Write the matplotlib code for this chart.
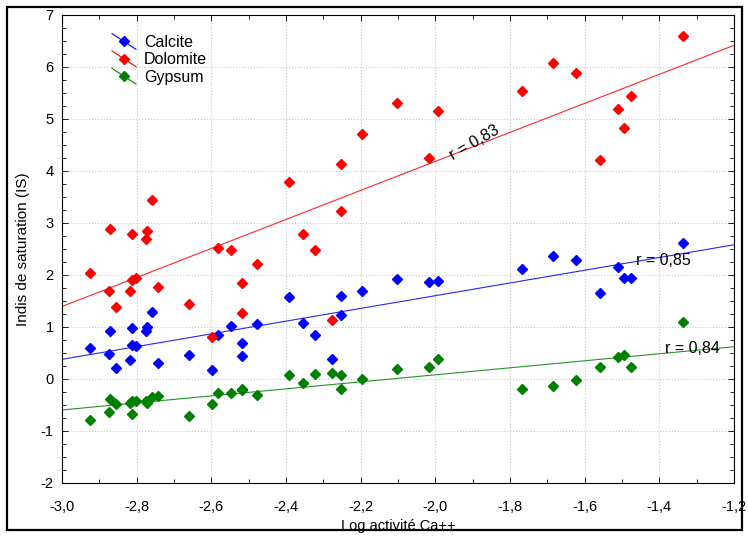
import numpy as np
import matplotlib
matplotlib.use("Agg")
import matplotlib.pyplot as plt
from matplotlib.lines import Line2D
from matplotlib.legend_handler import HandlerBase
from matplotlib.patches import Rectangle
from matplotlib.ticker import MultipleLocator, FuncFormatter

plt.rcParams['font.family'] = ['Liberation Sans', 'DejaVu Sans']

# Log activity of Ca++ (same samples for the three minerals)
log_ca = [-2.925, -2.874, -2.871, -2.855, -2.818, -2.812, -2.812, -2.802, -2.775,
          -2.771, -2.759, -2.744, -2.660, -2.597, -2.581, -2.546, -2.517, -2.517,
          -2.478, -2.392, -2.354, -2.323, -2.276, -2.252, -2.252, -2.196, -2.104,
          -2.017, -1.992, -1.767, -1.684, -1.624, -1.560, -1.510, -1.495, -1.475,
          -1.336]

calcite = [0.60, 0.48, 0.92, 0.21, 0.36, 0.98, 0.65, 0.64, 0.93,
           1.00, 1.28, 0.30, 0.47, 0.18, 0.85, 1.01, 0.69, 0.44,
           1.05, 1.58, 1.07, 0.85, 0.39, 1.59, 1.24, 1.69, 1.92,
           1.86, 1.88, 2.12, 2.36, 2.28, 1.66, 2.15, 1.95, 1.95,
           2.62]

dolomite = [2.03, 1.70, 2.89, 1.39, 1.70, 2.79, 1.90, 1.95, 2.70,
            2.85, 3.45, 1.77, 1.45, 0.80, 2.51, 2.49, 1.85, 1.27,
            2.21, 3.78, 2.79, 2.48, 1.13, 4.14, 3.23, 4.71, 5.31,
            4.25, 5.16, 5.54, 6.08, 5.88, 4.21, 5.19, 4.83, 5.45,
            6.59]

gypsum = [-0.78, -0.64, -0.39, -0.49, -0.46, -0.68, -0.42, -0.43, -0.42,
          -0.47, -0.34, -0.33, -0.71, -0.49, -0.26, -0.27, -0.22, -0.20,
          -0.30, 0.07, -0.08, 0.09, 0.11, 0.07, -0.20, 0.00, 0.19,
          0.23, 0.38, -0.20, -0.13, -0.02, 0.23, 0.42, 0.46, 0.23,
          1.10]

series = [("Calcite", calcite, "#0000ff"),
          ("Dolomite", dolomite, "#ff0000"),
          ("Gypsum", gypsum, "#008000")]

# r labels: text, x, y, rotation
r_labels = [("r = 0,83", -1.896, 4.55, 30),
            ("r = 0,85", -1.39, 2.28, 0),
            ("r = 0,84", -1.31, 0.59, 0)]


class DiagHandler(HandlerBase):
    # legend key: diagonal line with a diamond in the middle
    def create_artists(self, legend, orig_handle, xdescent, ydescent,
                       width, height, fontsize, trans):
        c = orig_handle.get_color()
        ln = Line2D([-xdescent, width - xdescent],
                    [height * 1.2 - ydescent, -height * 0.2 - ydescent],
                    color=c, lw=0.8, transform=trans)
        mk = Line2D([width / 2 - xdescent], [height / 2 - ydescent],
                    marker='D', ms=5, color=c, ls='none', transform=trans)
        return [ln, mk]


fig = plt.figure(figsize=(7.48, 5.37), dpi=100)
ax = fig.add_axes([62 / 748, 1 - 483 / 537, 672 / 748, 468 / 537])

x = np.array(log_ca)
xx = np.array([-3.0, -1.2])
handles = []
for name, vals, col in series:
    y = np.array(vals)
    a, b = np.polyfit(x, y, 1)
    ax.plot(xx, a * xx + b, color=col, lw=0.8, alpha=0.85, zorder=2)
    ax.plot(x, y, 'D', ms=5.5, color=col, zorder=3)
    handles.append(Line2D([], [], color=col, marker='D', label=name))

for txt, tx, ty, rot in r_labels:
    ax.text(tx, ty, txt, fontsize=11.5, rotation=rot, ha='center', va='center',
            rotation_mode='anchor', zorder=4)

ax.set_xlim(-3.0, -1.2)
ax.set_ylim(-2, 7)
ax.xaxis.set_major_locator(MultipleLocator(0.2))
ax.xaxis.set_minor_locator(MultipleLocator(0.1))
ax.yaxis.set_major_locator(MultipleLocator(1))
ax.yaxis.set_minor_locator(MultipleLocator(0.25))
ax.xaxis.set_major_formatter(FuncFormatter(lambda v, p: f"{v:.1f}".replace('.', ',')))
ax.yaxis.set_major_formatter(FuncFormatter(lambda v, p: f"{v:.0f}"))
ax.tick_params(which='both', direction='in', top=True, right=True, labelsize=10.5)
ax.tick_params(which='major', length=4.5, width=0.6)
ax.tick_params(which='minor', length=3, width=0.6)
ax.tick_params(axis='x', which='major', pad=12)
ax.tick_params(axis='y', which='major', pad=6)
ax.grid(True, which='major', color='#c8c8c8', ls=':', lw=0.8)
for s in ax.spines.values():
    s.set_linewidth(0.8)

ax.set_xlabel("Log activité Ca++", fontsize=10.5, labelpad=4)
ax.set_ylabel("Indis de saturation (IS)", fontsize=11, labelpad=8)

ax.legend(handles=handles, handler_map={Line2D: DiagHandler()},
          loc='upper left', bbox_to_anchor=((112 - 62) / 672, (483 - 35) / 468),
          frameon=False, fontsize=11.5, borderpad=0, borderaxespad=0,
          handlelength=1.5, handletextpad=0.5, labelspacing=0.15)

fig.patches.append(Rectangle((6.5 / 748, 7 / 537), 735 / 748, 523 / 537,
                             transform=fig.transFigure, fill=False,
                             ec='black', lw=1.6))

fig.savefig("out.png", dpi=100)
